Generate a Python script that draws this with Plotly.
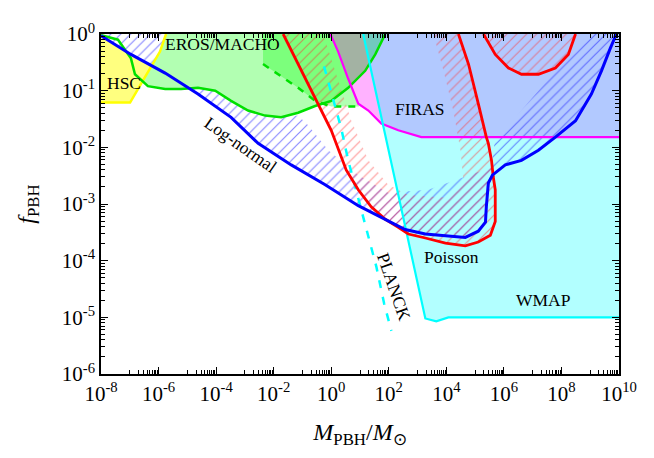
import plotly.graph_objects as go

# values: log10(M/Msun) and log10(f_PBH)
hsc_line_logm = [-8.0, -6.99, -6.61, -6.19, -5.95, -5.74]
hsc_line_logf = [-1.21, -1.21, -0.88, -0.51, -0.31, 0.0]
hsc_fill_logm = [-8.0, -6.99, -6.61, -6.245, -6.96, -8.0]
hsc_fill_logf = [-1.21, -1.21, -0.88, -0.558, -0.36, -0.03]

eros_logm = [-8.0, -7.41, -6.96, -6.82, -6.37, -5.77, -5.22, -4.63, -4.03, -3.48, -2.89,
             -2.30, -1.74, -1.15, -0.56, 0.0, 0.59, 1.18, 1.53, 1.74, 1.88]
eros_logf = [-0.02, -0.10, -0.43, -0.71, -0.92, -0.97, -0.97, -0.95, -1.00, -1.18, -1.35,
             -1.44, -1.47, -1.39, -1.27, -1.18, -0.95, -0.65, -0.36, -0.13, 0.0]
eros_fill_logm = [-6.56, -6.37, -5.77, -5.22, -4.63, -4.03, -3.48, -2.89, -2.30, -1.74, -1.15,
                  -0.56, 0.0, 0.59, 1.18, 1.53, 1.74, 1.88, -5.74, -5.95, -6.19]
eros_fill_logf = [-0.83, -0.92, -0.97, -0.97, -0.95, -1.00, -1.18, -1.35, -1.44, -1.47, -1.39,
                  -1.27, -1.18, -0.95, -0.65, -0.36, -0.13, 0.0, 0.0, -0.31, -0.51]

macho_logm = [-2.37, -2.37, -1.15, -0.56, 0.0, 0.97, 0.68, 1.18, 1.53, 1.74, 1.88]
macho_logf = [0.0, -0.53, -0.95, -1.18, -1.28, -1.28, -0.90, -0.65, -0.36, -0.13, 0.0]
macho_dash_logm = [-2.37, -1.15, -0.56, 0.0, 0.97]
macho_dash_logf = [-0.53, -0.95, -1.18, -1.28, -1.28]

firas_logm = [-0.03, 0.24, 0.59, 0.94, 1.29, 1.74, 2.33, 3.13, 10.0]
firas_logf = [0.0, -0.31, -0.79, -1.23, -1.35, -1.58, -1.70, -1.82, -1.82]

wmap_logm = [1.11, 3.03, 3.27, 3.65, 4.07, 10.0]
wmap_logf = [0.0, -4.49, -5.02, -5.07, -5.00, -5.00]

planck_logm = [-0.25, 0.07, 0.35, 0.59, 1.01, 1.29, 1.57, 1.84, 2.09]
planck_logf = [-0.57, -1.18, -1.67, -2.23, -3.05, -3.57, -4.11, -4.76, -5.24]

lognormal_logm = [-8.0, -6.96, -5.77, -4.63, -3.48, -2.54, -1.39, -0.21, 0.94, 2.09, 2.57,
                  3.27, 4.07, 4.66, 5.11, 5.36, 5.39, 5.46, 5.60, 6.05, 6.61, 7.20, 7.79,
                  8.49, 9.04, 9.39, 9.70, 9.91]
lognormal_logf = [-0.03, -0.36, -0.69, -1.06, -1.47, -1.93, -2.31, -2.66, -3.03, -3.32, -3.45,
                  -3.53, -3.57, -3.59, -3.48, -3.32, -3.05, -2.63, -2.49, -2.31, -2.23, -2.05,
                  -1.82, -1.53, -1.06, -0.65, -0.25, 0.0]
# hatched log-normal band: small-mass corner and main band (outlines)
lognormal_corner_logm = [-8.0, -6.96, -6.245, -5.95, -5.74, -8.0]
lognormal_corner_logf = [-0.03, -0.36, -0.558, -0.31, 0.0, 0.0]
lognormal_band_logm = [-4.93, -4.63, -3.48, -2.54, -1.39, -0.21, 0.94, 2.09, 2.57, 3.27, 4.07,
                       4.66, 5.11, 5.36, 5.39, 5.46, 5.60, 6.05, 6.61, 7.20, 7.79, 8.49, 9.04,
                       9.39, 9.70, 9.91,
                       8.94, 8.0, 7.20, 6.40, 5.70, 5.57, 4.66, 3.37, 1.98, 0.94, -0.10, -0.80,
                       -1.15, -1.74, -2.30, -2.89, -3.48, -4.03, -4.63]
lognormal_band_logf = [-0.96, -1.06, -1.47, -1.93, -2.31, -2.66, -3.03, -3.32, -3.45, -3.53, -3.57,
                       -3.59, -3.48, -3.32, -3.05, -2.63, -2.49, -2.31, -2.23, -2.05, -1.82,
                       -1.53, -1.06, -0.65, -0.25, 0.0,
                       0.0, -0.53, -1.0, -1.47, -1.82, -2.35, -2.52, -2.75, -2.80, -2.49, -2.05,
                       -1.61, -1.44, -1.47, -1.44, -1.35, -1.18, -1.00, -0.95]

poisson_logm = [-1.67, -1.15, -0.56, 0.0, 0.52, 0.94, 1.39, 1.88, 2.33, 2.68, 3.27, 3.97, 4.66,
                5.11, 5.53, 5.70, 5.70, 5.70, 5.63, 5.57, 5.46, 5.39, 5.11, 4.77, 4.42]
poisson_logf = [0.0, -0.53, -1.13, -1.70, -2.40, -2.75, -3.05, -3.27, -3.41, -3.53, -3.60, -3.69,
                -3.74, -3.67, -3.55, -3.31, -3.10, -2.75, -2.52, -2.23, -1.93, -1.82, -1.23,
                -0.53, 0.0]
# inner edge of the hatched Poisson band (right to left)
poisson_band_logm = [3.55, 3.90, 4.24, 4.49, 4.59, 4.07, 2.68, 1.98, 1.29, 0.70, 0.24, -0.28]
poisson_band_logf = [0.0, -0.65, -1.35, -2.05, -2.57, -2.89, -2.84, -2.66, -2.23, -1.53, -0.83, 0.0]

poisson_arc_logm = [5.29, 5.70, 6.16, 6.61, 7.20, 7.79, 8.24, 8.49]
poisson_arc_logf = [0.0, -0.36, -0.60, -0.71, -0.71, -0.60, -0.36, 0.0]

labels = ["HSC", "EROS/MACHO", "FIRAS", "Log-normal", "Poisson", "PLANCK", "WMAP"]
label_logm = [-7.20, -3.79, 3.10, -3.13, 4.17, 2.19, 7.37]
label_logf = [-0.87, -0.18, -1.32, -1.95, -3.94, -4.46, -4.69]
label_angle = [0, 0, 0, 35, 0, 71, 0]

xtick_exp = list(range(-8, 11, 2))
ytick_exp = list(range(-6, 1))


def lin(v):
    return [10 ** e for e in v]


SERIF = "Liberation Serif"
fig = go.Figure()


def area(xs, ys, color):
    fig.add_trace(go.Scatter(x=lin(xs), y=lin(ys), mode="lines", fill="toself",
                             fillcolor=color, line=dict(width=0), hoverinfo="skip"))


def hatch(xs, ys, color):
    fig.add_trace(go.Scatter(x=lin(xs), y=lin(ys), mode="lines", fill="toself",
                             fillcolor="rgba(0,0,0,0)", line=dict(width=0), hoverinfo="skip",
                             fillpattern=dict(shape="/", fgcolor=color, bgcolor="rgba(0,0,0,0)",
                                              size=7, solidity=0.17, fillmode="overlay")))


def curve(xs, ys, color, width, dash="solid"):
    fig.add_trace(go.Scatter(x=lin(xs), y=lin(ys), mode="lines",
                             line=dict(color=color, width=width, dash=dash), hoverinfo="skip"))


# filled regions
area(hsc_fill_logm, hsc_fill_logf, "rgba(255,255,0,0.5)")
area(eros_fill_logm, eros_fill_logf, "rgba(0,255,0,0.3)")
area(macho_logm, macho_logf, "rgba(0,255,0,0.3)")
area(firas_logm + [10.0], firas_logf + [0.0], "rgba(255,0,255,0.3)")
area(wmap_logm + [10.0], wmap_logf + [0.0], "rgba(0,255,255,0.3)")

# hatched bands
hatch(lognormal_corner_logm, lognormal_corner_logf, "rgb(20,20,255)")
hatch(lognormal_band_logm, lognormal_band_logf, "rgb(20,20,255)")
hatch(poisson_logm + poisson_band_logm, poisson_logf + poisson_band_logf, "rgb(255,50,50)")
hatch(poisson_arc_logm, poisson_arc_logf, "rgb(255,50,50)")

# boundary lines
curve(hsc_line_logm, hsc_line_logf, "#ffff00", 2.5)
curve(eros_logm, eros_logf, "#00e000", 2.5)
curve(macho_dash_logm, macho_dash_logf, "#00e000", 2.5, "7px,7px")
curve(firas_logm, firas_logf, "#ff00ff", 2.2)
curve(wmap_logm, wmap_logf, "#00ffff", 2.2)
curve(planck_logm, planck_logf, "#00ffff", 2.5, "8px,9px")
curve(poisson_logm, poisson_logf, "#ff0000", 2.8)
curve(poisson_arc_logm, poisson_arc_logf, "#ff0000", 2.8)
curve(lognormal_logm, lognormal_logf, "#0000ff", 3)

for txt, lx, ly, ang in zip(labels, label_logm, label_logf, label_angle):
    fig.add_annotation(x=lx, y=ly, text=txt, showarrow=False, textangle=ang,
                       font=dict(family=SERIF, size=17.5, color="black"))

axis_common = dict(type="log", showgrid=False, zeroline=False, showline=True, linecolor="black",
                   linewidth=1.5, mirror="allticks", ticks="inside", ticklen=7, tickcolor="black",
                   tickfont=dict(family=SERIF, size=21, color="black"))

minor_x = [n * 10 ** (k + 1) for k in xtick_exp[:-1] for n in range(1, 10)]
fig.update_xaxes(range=[-8, 10],
                 tickvals=[10 ** k for k in xtick_exp],
                 ticktext=[f"10<sup>{k}</sup>" for k in xtick_exp],
                 minor=dict(tickmode="array", tickvals=minor_x, ticks="inside", ticklen=4,
                            tickcolor="black", showgrid=False),
                 title=dict(text="<i>M</i><sub>PBH</sub>/<i>M</i><sub>⊙</sub>", standoff=18,
                            font=dict(family=SERIF, size=24, color="black")),
                 **axis_common)
fig.update_yaxes(range=[-6, 0],
                 tickvals=[10 ** k for k in ytick_exp],
                 ticktext=[f"10<sup>{k}</sup>" for k in ytick_exp],
                 minor=dict(dtick="D1", ticks="inside", ticklen=4, tickcolor="black",
                            showgrid=False),
                 title=dict(text="<i>f</i><sub>PBH</sub>", standoff=20,
                            font=dict(family=SERIF, size=24, color="black")),
                 **axis_common)

fig.update_layout(width=654, height=458, showlegend=False, plot_bgcolor="white",
                  paper_bgcolor="white", margin=dict(l=93, r=43, t=22, b=92))

fig.write_html("out.html")
